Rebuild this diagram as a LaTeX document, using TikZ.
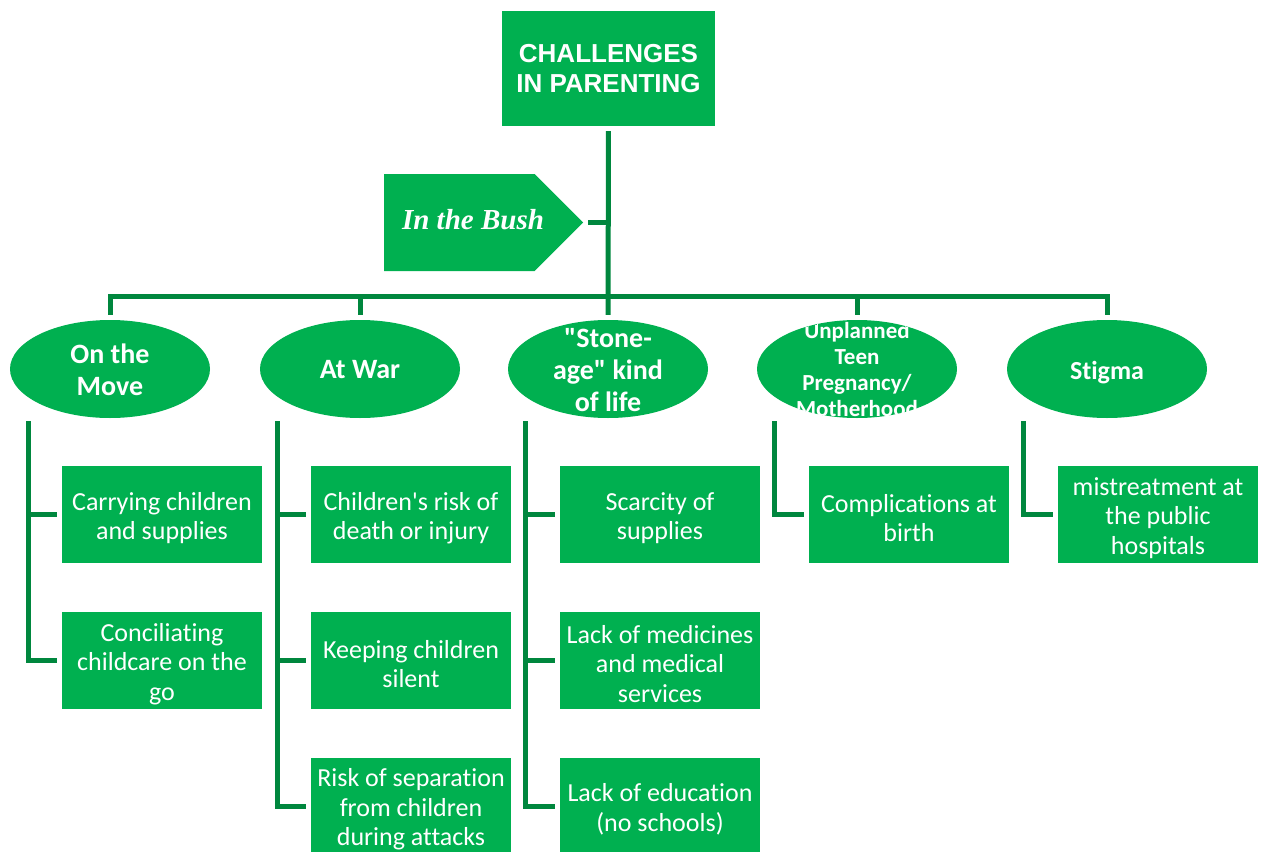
\documentclass[tikz,border=0pt]{standalone}
\usepackage{fontspec}
\setmainfont{Carlito}[Ligatures={TeXOff,NoCommon}]
\newfontfamily\titlefont{Liberation Sans}
\newfontfamily\bushfont{Liberation Serif}
\usetikzlibrary{shapes.geometric,shapes.symbols}
\definecolor{boxgreen}{RGB}{0,176,80}
\definecolor{linegreen}{RGB}{0,135,62}
% tall strut on the first line lowers a box's text slightly
\newcommand{\lowstrut}{\rule{0pt}{25pt}}
\tikzset{
  conn/.style={draw=linegreen, line width=5pt},
  box/.style={fill=boxgreen, minimum width=200pt, minimum height=97pt, inner sep=0pt,
    align=center, text=white, font=\fontsize{26}{29.5}\selectfont},
  oval/.style={ellipse, fill=boxgreen, minimum width=200pt, minimum height=98pt, inner sep=0pt},
  ovaltext/.style={align=center, text=white, inner sep=0pt, font=\bfseries\fontsize{28}{32}\selectfont},
}
\newcommand{\ovalnode}[4][]{%
  \node[oval, path picture={\node[ovaltext,yshift=-1pt,#1] at (path picture bounding box.center) {#4};}] (#2) at #3 {};}
\begin{document}
\begin{tikzpicture}[x=1pt, y=-1pt]
\useasboundingbox (0,0) rectangle (1263,851);
\clip (0,0) rectangle (1263,851);

% root
\node[fill=boxgreen, minimum width=213pt, minimum height=115pt, inner sep=0pt, align=center,
  text=white, font=\titlefont\bfseries\fontsize{26}{30}\selectfont] (title) at (608.5,68.5)
  {CHALLENGES\\IN PARENTING};

% setting tag
\node[signal, signal to=east, signal pointer angle=90, fill=boxgreen, anchor=west,
  minimum width=199pt, minimum height=97pt, inner sep=0pt] (bush) at (384,222.5) {};
\node[text=white, font=\bushfont\bfseries\itshape\fontsize{29}{32}\selectfont] (bushtext) at (473,220) {In the Bush};

% categories
\ovalnode{e1}{(110,369)}{On the\\Move}
\ovalnode{e2}{(360,369)}{At War}
\ovalnode{e3}{(608,369)}{\char34 Stone-\\age\char34{} kind\\of life}
\ovalnode[font=\bfseries\fontsize{23}{26}\selectfont]{e4}{(857,369)}{Unplanned\\Teen\\Pregnancy/\\Motherhood}
\ovalnode[font=\bfseries\fontsize{26}{29}\selectfont, yshift=-3pt]{e5}{(1107,369)}{Stigma}

% challenges
\node[box] (b11) at (162,514.5) {\lowstrut Carrying children\\and supplies};
\node[box] (b12) at (162,660.5) {\lowstrut Conciliating\\childcare on the\\go};
\node[box] (b21) at (411,514.5) {\lowstrut Children's risk of\\death or injury};
\node[box] (b22) at (411,660.5) {\lowstrut Keeping children\\silent};
\node[box] (b23) at (411,806) {\lowstrut Risk of separation\\from children\\during attacks};
\node[box] (b31) at (660,514.5) {\lowstrut Scarcity of\\supplies};
\node[box] (b32) at (660,660.5) {\lowstrut Lack of medicines\\and medical\\services};
\node[box] (b33) at (660,806) {\lowstrut Lack of education\\(no schools)};
\node[box] (b41) at (909,514.5) {\lowstrut Complications at\\birth};
\node[box] (b51) at (1158,514.5) {\lowstrut mistreatment at\\the public\\hospitals};

% trunk and bar
\coordinate (bar) at (608,296);
\draw[conn, shorten <=5pt, shorten >=5pt] (title.south) -- (e3.north);
\draw[conn] ([xshift=5pt]bush.east) -- (bush.east -| title.south);
\draw[conn, shorten <=5pt, shorten >=5pt] (e1.north) |- (bar) -| (e5.north);
\draw[conn, shorten >=5pt] (e2.north |- bar) -- (e2.north);
\draw[conn, shorten >=5pt] (e4.north |- bar) -- (e4.north);

% spines under each category
\coordinate (s1) at (28,421);
\coordinate (s2) at (277,421);
\coordinate (s3) at (525,421);
\coordinate (s4) at (774,421);
\coordinate (s5) at (1023,421);
\draw[conn, shorten >=5pt] (s1) |- (b12.west);
\draw[conn, shorten >=5pt] (s1 |- b11.west) -- (b11.west);
\draw[conn, shorten >=5pt] (s2) |- (b23.west);
\draw[conn, shorten >=5pt] (s2 |- b21.west) -- (b21.west);
\draw[conn, shorten >=5pt] (s2 |- b22.west) -- (b22.west);
\draw[conn, shorten >=5pt] (s3) |- (b33.west);
\draw[conn, shorten >=5pt] (s3 |- b31.west) -- (b31.west);
\draw[conn, shorten >=5pt] (s3 |- b32.west) -- (b32.west);
\draw[conn, shorten >=5pt] (s4) |- (b41.west);
\draw[conn, shorten >=5pt] (s5) |- (b51.west);
\end{tikzpicture}
\end{document}
